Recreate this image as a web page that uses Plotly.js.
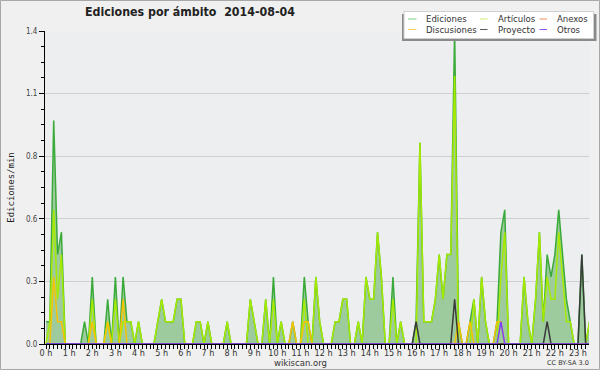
<!DOCTYPE html>
<html><head><meta charset="utf-8">
<script src="https://cdn.plot.ly/plotly-3.0.1.min.js"></script>
<style>html,body{margin:0;padding:0;background:#f0f0f0;} #chart{width:600px;height:370px;}</style>
</head><body><div id="chart"></div>
<script>
// 10-minute bins, edits per minute, 2014-08-04
const ediciones = [
0.1,0.1,1.0,0.4,0.5,0,0,0,0,0,
0.1,0,0.3,0,0,0,0.2,0,0.3,0,
0.3,0.1,0.1,0,0.1,0,0,0,0,0.1,
0.2,0.1,0.1,0.1,0.2,0.2,0,0,0,0.1,
0.1,0,0.1,0,0,0,0,0.1,0,0,
0,0,0,0.2,0.1,0,0,0.2,0,0.3,
0,0.1,0,0,0.1,0,0,0.3,0.1,0,
0.3,0.1,0,0,0,0.1,0.1,0.2,0.2,0,
0,0.1,0,0.3,0.2,0.2,0.5,0.3,0,0,
0.3,0,0.1,0,0,0,0.1,0.9,0.1,0.1,
0.1,0.2,0.4,0.2,0.4,0.4,1.4,0.1,0,0,
0.1,0.2,0,0.3,0.1,0,0,0.1,0.5,0.6,
0,0,0,0,0.3,0.1,0,0.2,0.5,0.1,
0.4,0.3,0.4,0.6,0.4,0.2,0.1,0,0,0.4,
0,0.1
];
const articulos = [
0,0.1,0.6,0.2,0.4,0,0,0,0,0,
0,0,0.2,0,0,0,0.1,0,0.2,0,
0.1,0.1,0.1,0,0.1,0,0,0,0,0.1,
0.2,0.1,0.1,0.1,0.2,0.2,0,0,0,0.1,
0.1,0,0.1,0,0,0,0,0.1,0,0,
0,0,0,0.2,0.1,0,0,0.2,0,0.2,
0,0.1,0,0,0,0,0,0.2,0,0,
0.3,0.1,0,0,0,0.1,0.1,0.2,0.2,0,
0,0.1,0,0.3,0.2,0.2,0.5,0.3,0,0,
0.2,0,0.1,0,0,0,0,0.9,0.1,0.1,
0.1,0.2,0.4,0.2,0.4,0.4,1.2,0,0,0,
0,0.2,0,0.3,0.1,0,0,0,0.3,0.5,
0,0,0,0,0.3,0.1,0,0.2,0.5,0.1,
0.3,0.2,0.2,0.5,0.3,0.1,0.1,0,0,0,
0,0.1
];
const anexos = [
0,0,0,0,0,0,0,0,0,0,
0,0,0,0,0,0,0,0,0,0,
0,0,0,0,0,0,0,0,0,0,
0,0,0,0,0,0,0,0,0,0,
0,0,0,0,0,0,0,0,0,0,
0,0,0,0,0,0,0,0,0,0,
0,0,0,0,0,0,0,0,0,0,
0,0,0,0,0,0,0,0,0,0,
0,0,0,0,0,0,0,0,0,0,
0,0,0,0,0,0,0,0,0,0,
0,0,0,0,0,0,0,0,0,0,
0,0,0,0,0,0,0,0,0,0,
0,0,0,0,0,0,0,0,0,0,
0,0,0,0,0,0,0,0,0,0,
0,0
];
const discusiones = [
0,0,0.3,0.1,0.1,0,0,0,0,0,
0,0,0.1,0,0,0,0.1,0,0,0,
0.2,0,0,0,0,0,0,0,0,0,
0,0,0,0,0,0,0,0,0,0,
0,0,0,0,0,0,0,0,0,0,
0,0,0,0,0,0,0,0,0,0,
0,0,0,0,0.1,0,0,0.1,0.1,0,
0,0,0,0,0,0,0,0,0,0,
0,0,0,0,0,0,0,0,0,0,
0,0,0,0,0,0,0,0,0,0,
0,0,0,0,0,0,0,0.1,0,0,
0.1,0,0,0,0,0,0,0.1,0.1,0,
0,0,0,0,0,0,0,0,0,0,
0,0,0,0,0,0,0,0,0,0,
0,0
];
const proyecto = [
0,0,0,0,0,0,0,0,0,0,
0,0,0,0,0,0,0,0,0,0,
0,0,0,0,0,0,0,0,0,0,
0,0,0,0,0,0,0,0,0,0,
0,0,0,0,0,0,0,0,0,0,
0,0,0,0,0,0,0,0,0,0,
0,0,0,0,0,0,0,0,0,0,
0,0,0,0,0,0,0,0,0,0,
0,0,0,0,0,0,0,0,0,0,
0,0,0,0,0,0,0.1,0,0,0,
0,0,0,0,0,0,0.2,0,0,0,
0,0,0,0,0,0,0,0,0,0,
0,0,0,0,0,0,0,0,0,0,
0.1,0,0,0,0,0,0,0,0,0.4,
0,0
];
const otros = [
0,0,0,0,0,0,0,0,0,0,
0,0,0,0,0,0,0,0,0,0,
0,0,0,0,0,0,0,0,0,0,
0,0,0,0,0,0,0,0,0,0,
0,0,0,0,0,0,0,0,0,0,
0,0,0,0,0,0,0,0,0,0,
0,0,0,0,0,0,0,0,0,0,
0,0,0,0,0,0,0,0,0,0,
0,0,0,0,0,0,0,0,0,0,
0,0,0,0,0,0,0,0,0,0,
0,0,0,0,0,0,0,0,0,0,
0,0,0,0,0,0,0,0,0.1,0,
0,0,0,0,0,0,0,0,0,0,
0,0,0,0,0,0,0,0,0,0,
0,0
];
const seriesNames = ['Ediciones','Artículos','Anexos','Discusiones','Proyecto','Otros'];
const seriesColors = ['#3aaa3a','#a6ea00','#ff7f50','#f5c400','#3a3a3a','#7f3fff'];
const legendSwatch = ['#7fcf7f','#cdee70','#f58a66','#f7d364','#5a5a5a','#9256f0'];
const hourTickVals = [0,1,2,3,4,5,6,7,8,9,10,11,12,13,14,15,16,17,18,19,20,21,22,23];
const hourTickText = ['0 h','1 h','2 h','3 h','4 h','5 h','6 h','7 h','8 h','9 h','10 h','11 h','12 h','13 h','14 h','15 h','16 h','17 h','18 h','19 h','20 h','21 h','22 h','23 h'];
const yTickVals = [0,0.28,0.56,0.84,1.12,1.4];
const yTickText = ['0.0','0.3','0.6','0.8','1.1','1.4'];

// time of each 10-minute bin in hours
const horas = ediciones.map((_, i) => i / 6);

const FONT = 'DejaVu Sans Condensed, DejaVu Sans, sans-serif';
const L = 45, R = 589, T = 31, B = 344;
const px = p => (p - L) / (R - L);
const py = p => (B - p) / (B - T);

const data = [ediciones, articulos, anexos, discusiones, proyecto, otros];
const traces = data.map((vals, k) => {
  const t = {
    type: 'scatter', mode: 'lines', x: horas, y: vals, name: seriesNames[k],
    line: {color: seriesColors[k], width: 1.5}, showlegend: false, hoverinfo: 'skip'
  };
  if (k === 0) { t.fill = 'tozeroy'; t.fillcolor = '#9ecb9e'; }
  return t;
});

// legend box drawn in paper coordinates
const shapes = [
  {type:'rect', xref:'paper', yref:'paper', x0:px(0.5), x1:px(599.5), y0:py(369.5), y1:py(0.5),
   line:{color:'#a8a8a8', width:1}, fillcolor:'rgba(0,0,0,0)', layer:'above'},
  {type:'rect', xref:'paper', yref:'paper', x0:px(402), x1:px(596.5), y0:py(41), y1:py(14),
   line:{width:0}, fillcolor:'#8a8a8a', layer:'above'},
  {type:'rect', xref:'paper', yref:'paper', x0:px(404), x1:px(593.5), y0:py(38.5), y1:py(11.5),
   line:{color:'#d0d0d0', width:1}, fillcolor:'#ffffff', layer:'above'}
];
const annotations = [];
const colX = [[408,416.5,424],[480,487.5,496],[539.5,547,555]];
const rowY = [19,29.5];
seriesNames.forEach((n, k) => {
  const c = colX[k % 3], r = rowY[Math.floor(k / 3)];
  shapes.push({type:'line', xref:'paper', yref:'paper', x0:px(c[0]), x1:px(c[1]), y0:py(r), y1:py(r),
    line:{color:legendSwatch[k], width:1}, layer:'above'});
  annotations.push({xref:'paper', yref:'paper', x:px(c[2]), y:py(r), xanchor:'left', yanchor:'middle',
    text:n, showarrow:false, font:{family:FONT, size:9.5, color:'#333'}});
});
annotations.push({xref:'paper', yref:'paper', x:px(300.5), y:py(362.5), xanchor:'center', yanchor:'middle',
  text:'wikiscan.org', showarrow:false, font:{family:'DejaVu Sans, sans-serif', size:8.5, color:'#333'}});
annotations.push({xref:'paper', yref:'paper', x:px(591), y:py(362.5), xanchor:'right', yanchor:'middle',
  text:'CC BY-SA 3.0', showarrow:false, font:{family:'DejaVu Sans, sans-serif', size:6.5, color:'#333'}});

const layout = {
  width: 600, height: 370,
  margin: {l: L, r: 600 - R, t: T, b: 370 - B, pad: 0},
  paper_bgcolor: '#f0f0f0', plot_bgcolor: '#edeef0',
  showlegend: false,
  title: {text: 'Ediciones por ámbito  2014-08-04', xref:'container', yref:'container',
    x: 85/600, xanchor:'left', y: 1 - 11.5/370, yanchor:'middle',
    font: {family: FONT, size: 12.3, weight: 'bold', color: '#222'}},
  xaxis: {range: [-0.0432, 23.476], tickmode:'array', tickvals: hourTickVals, ticktext: hourTickText,
    showgrid:false, zeroline:false, showline:true, linecolor:'#000', linewidth:1,
    ticks:'outside', ticklen:4, tickcolor:'#000', tickwidth:1, ticklabelstandoff:-4,
    minor:{dtick:1/6, tick0:0, ticks:'outside', ticklen:4, tickcolor:'#000', tickwidth:1, showgrid:false},
    tickfont:{family:FONT, size:9, color:'#333'}, fixedrange:true},
  yaxis: {range: [0, 1.4], tickmode:'array', tickvals: yTickVals, ticktext: yTickText,
    showgrid:true, gridcolor:'#cfcfcf', gridwidth:1, zeroline:false, showline:true, linecolor:'#000', linewidth:1,
    ticks:'outside', ticklen:5, tickcolor:'#000', tickwidth:1,
    minor:{dtick:0.07, tick0:0, ticks:'outside', ticklen:3, tickcolor:'#000', tickwidth:1, showgrid:false},
    tickfont:{family:FONT, size:8, color:'#444'},
    title:{text:'Ediciones/min', font:{family:'DejaVu Sans Mono, monospace', size:9, color:'#222'}, standoff:9},
    fixedrange:true},
  shapes: shapes, annotations: annotations
};
Plotly.newPlot('chart', traces, layout, {staticPlot: true, displayModeBar: false});
</script></body></html>
